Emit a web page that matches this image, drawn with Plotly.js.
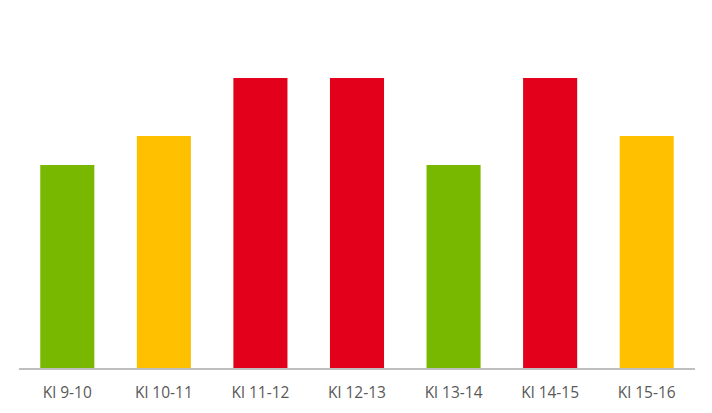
<!DOCTYPE html>
<html>
<head>
<meta charset="utf-8">
<script src="https://cdn.plot.ly/plotly-3.0.1.min.js"></script>
<style>body{margin:0;background:#fff}#chart{width:712px;height:413px}</style>
</head>
<body>
<div id="chart"></div>
<script>
var hours = ['Kl 9-10', 'Kl 10-11', 'Kl 11-12', 'Kl 12-13', 'Kl 13-14', 'Kl 14-15', 'Kl 15-16'];
var load = [7, 8, 10, 10, 7, 10, 8];
var barColors = ['#78B800', '#FFC000', '#E2001A', '#E2001A', '#78B800', '#E2001A', '#FFC000'];

var trace = {
  x: hours,
  y: load,
  type: 'bar',
  marker: {color: barColors},
  width: 0.56,
  hoverinfo: 'x+y'
};

var layout = {
  width: 712,
  height: 413,
  margin: {l: 19, r: 17, t: 20, b: 45},
  paper_bgcolor: '#fff',
  plot_bgcolor: '#fff',
  showlegend: false,
  xaxis: {
    showline: true,
    linecolor: '#BFBFBF',
    linewidth: 2,
    ticks: 'outside',
    ticklen: 9,
    tickcolor: 'rgba(0,0,0,0)',
    tickfont: {family: 'Open Sans, Liberation Sans, sans-serif', size: 15.5, color: '#595959'}
  },
  yaxis: {
    range: [0, 12],
    visible: false,
    showgrid: false,
    zeroline: false
  }
};

Plotly.newPlot('chart', [trace], layout, {displayModeBar: false, staticPlot: true});
</script>
</body>
</html>
